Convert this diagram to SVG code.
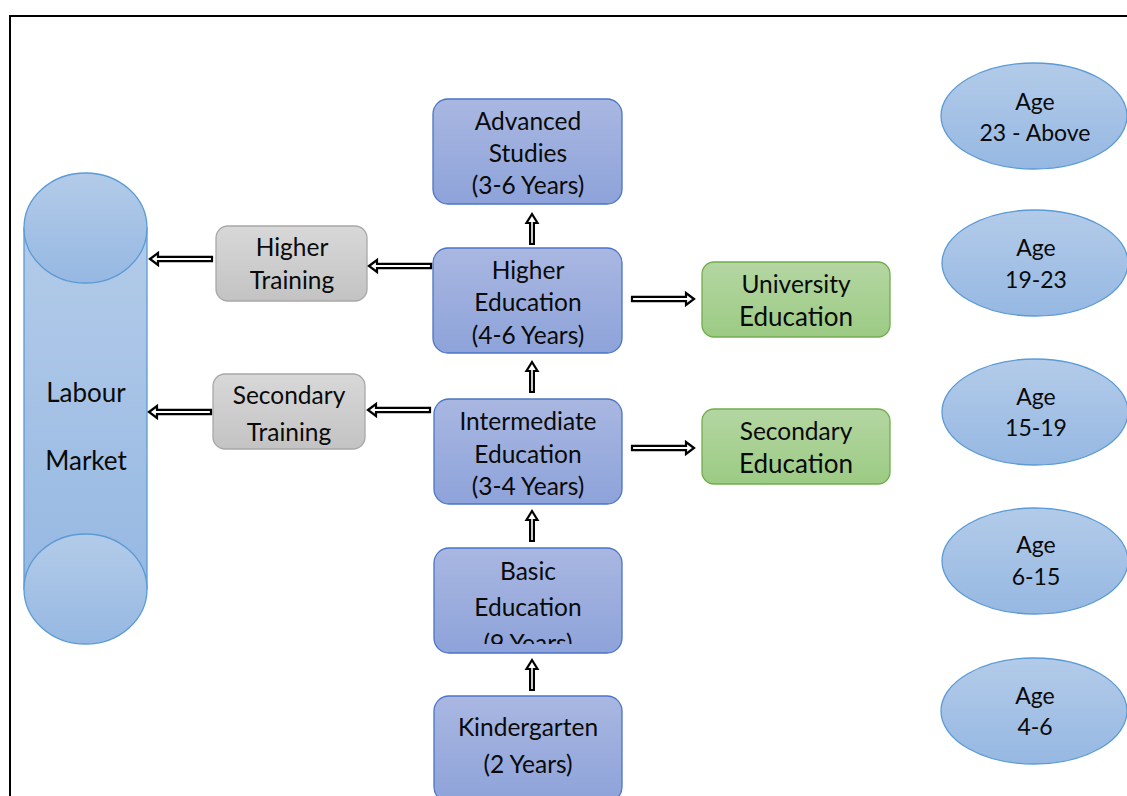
<svg xmlns="http://www.w3.org/2000/svg" width="1127" height="796" viewBox="0 0 1127 796">
  <defs>
    <linearGradient id="gBlue" x1="0" y1="0" x2="0" y2="1">
      <stop offset="0" stop-color="#a9b7e1"/>
      <stop offset="1" stop-color="#8ea3da"/>
    </linearGradient>
    <linearGradient id="gGreen" x1="0" y1="0" x2="0" y2="1">
      <stop offset="0" stop-color="#b4d6a2"/>
      <stop offset="1" stop-color="#9ccb84"/>
    </linearGradient>
    <linearGradient id="gGray" x1="0" y1="0" x2="0" y2="1">
      <stop offset="0" stop-color="#d8d8d8"/>
      <stop offset="1" stop-color="#c3c3c3"/>
    </linearGradient>
    <linearGradient id="gSky" x1="0" y1="0" x2="0" y2="1">
      <stop offset="0" stop-color="#b3cbe9"/>
      <stop offset="1" stop-color="#96b8e2"/>
    </linearGradient>
    <clipPath id="clipBasic">
      <rect x="434" y="548" width="188" height="96"/>
    </clipPath>
    <!-- hollow block arrow, pointing right, tail at 0, tip at 62 -->
    <polygon id="arrowH" points="62,0 54,-6 54,-2.2 0,-2.2 0,2.2 54,2.2 54,6"/>
    <!-- hollow block arrow, pointing up, tail at 0, tip at -30 -->
    <polygon id="arrowV" points="0,-30 -5.5,-21 -1.9,-21 -1.9,0 1.9,0 1.9,-21 5.5,-21"/>
  </defs>
  <style>
    .txt { font-family: Lato, "Open Sans", "Liberation Sans", sans-serif; fill: #0a0a0a; text-anchor: middle; }
    .s24 { font-size: 24.5px; }
    .s26 { font-size: 26px; }
    .s23 { font-size: 23px; }
    .blue { fill: url(#gBlue); stroke: #4a74c6; stroke-width: 1.3; }
    .green { fill: url(#gGreen); stroke: #72ad4c; stroke-width: 1.3; }
    .gray { fill: url(#gGray); stroke: #a8a8a8; stroke-width: 1.3; }
    .sky { fill: url(#gSky); stroke: #5b9bd5; stroke-width: 1.3; }
    .arrow { fill: #fff; stroke: #000; stroke-width: 2.2; stroke-linejoin: miter; }
  </style>

  <rect x="0" y="0" width="1127" height="796" fill="#fff"/>
  <!-- page frame -->
  <rect x="10" y="16" width="1140" height="800" fill="none" stroke="#000" stroke-width="2"/>

  <!-- labour market cylinder -->
  <g id="labour-market">
    <rect x="24" y="228" width="123" height="361" class="sky"/>
    <ellipse cx="85.5" cy="228" rx="61.5" ry="55" class="sky"/>
    <ellipse cx="85.5" cy="589" rx="61.5" ry="55" class="sky"/>
    <text class="txt s26" x="86" y="402">Labour</text>
    <text class="txt s26" x="86" y="470">Market</text>
  </g>

  <!-- training boxes -->
  <g id="higher-training">
    <rect x="216" y="226" width="151" height="75" rx="12" class="gray"/>
    <text class="txt s24" x="292" y="256">Higher</text>
    <text class="txt s24" x="292" y="289">Training</text>
  </g>
  <g id="secondary-training">
    <rect x="213" y="374" width="152" height="75" rx="12" class="gray"/>
    <text class="txt s24" x="289" y="404">Secondary</text>
    <text class="txt s24" x="289" y="441">Training</text>
  </g>

  <!-- education ladder -->
  <g id="advanced-studies">
    <rect x="433" y="99" width="189" height="105" rx="15" class="blue"/>
    <text class="txt s24" x="528" y="130">Advanced</text>
    <text class="txt s24" x="528" y="162">Studies</text>
    <text class="txt s24" x="528" y="194">(3-6 Years)</text>
  </g>
  <g id="higher-education">
    <rect x="433" y="248" width="189" height="105" rx="15" class="blue"/>
    <text class="txt s24" x="528" y="279">Higher</text>
    <text class="txt s24" x="528" y="311">Education</text>
    <text class="txt s24" x="528" y="344">(4-6 Years)</text>
  </g>
  <g id="intermediate-education">
    <rect x="434" y="399" width="188" height="105" rx="15" class="blue"/>
    <text class="txt s24" x="528" y="430">Intermediate</text>
    <text class="txt s24" x="528" y="463">Education</text>
    <text class="txt s24" x="528" y="495">(3-4 Years)</text>
  </g>
  <g id="basic-education">
    <rect x="434" y="548" width="188" height="105" rx="15" class="blue"/>
    <text class="txt s24" x="528" y="580">Basic</text>
    <text class="txt s24" x="528" y="616">Education</text>
    <text class="txt s24" x="528" y="652" clip-path="url(#clipBasic)">(9 Years)</text>
  </g>
  <g id="kindergarten">
    <rect x="434" y="696" width="188" height="106" rx="15" class="blue"/>
    <text class="txt s24" x="528" y="736">Kindergarten</text>
    <text class="txt s24" x="528" y="773">(2 Years)</text>
  </g>

  <!-- tertiary / secondary outcomes -->
  <g id="university-education">
    <rect x="702" y="262" width="188" height="75" rx="12" class="green"/>
    <text class="txt s24" x="796" y="293">University</text>
    <text class="txt s26" x="796" y="326">Education</text>
  </g>
  <g id="secondary-education">
    <rect x="702" y="409" width="188" height="75" rx="12" class="green"/>
    <text class="txt s24" x="796" y="440">Secondary</text>
    <text class="txt s26" x="796" y="473">Education</text>
  </g>

  <!-- age bands -->
  <g id="age-23-above">
    <ellipse cx="1034" cy="116" rx="93" ry="53" class="sky"/>
    <text class="txt s23" x="1035" y="110">Age</text>
    <text class="txt s23" x="1035" y="141">23 - Above</text>
  </g>
  <g id="age-19-23">
    <ellipse cx="1035" cy="263" rx="93" ry="53" class="sky"/>
    <text class="txt s23" x="1036" y="256">Age</text>
    <text class="txt s23" x="1036" y="288">19-23</text>
  </g>
  <g id="age-15-19">
    <ellipse cx="1035" cy="412" rx="93" ry="53" class="sky"/>
    <text class="txt s23" x="1036" y="405">Age</text>
    <text class="txt s23" x="1036" y="436">15-19</text>
  </g>
  <g id="age-6-15">
    <ellipse cx="1035" cy="561" rx="93" ry="53" class="sky"/>
    <text class="txt s23" x="1036" y="553">Age</text>
    <text class="txt s23" x="1036" y="585">6-15</text>
  </g>
  <g id="age-4-6">
    <ellipse cx="1034" cy="711" rx="93" ry="53" class="sky"/>
    <text class="txt s23" x="1035" y="704">Age</text>
    <text class="txt s23" x="1035" y="735">4-6</text>
  </g>

  <!-- connectors -->
  <g id="connectors" class="arrow">
    <use href="#arrowH" transform="translate(431,266) scale(-1,1)"/>
    <use href="#arrowH" transform="translate(212,259) scale(-1,1)"/>
    <use href="#arrowH" transform="translate(430,410) scale(-1,1)"/>
    <use href="#arrowH" transform="translate(211,412) scale(-1,1)"/>
    <use href="#arrowH" transform="translate(632,299)"/>
    <use href="#arrowH" transform="translate(632,448)"/>
    <use href="#arrowV" transform="translate(532,244)"/>
    <use href="#arrowV" transform="translate(532,392)"/>
    <use href="#arrowV" transform="translate(532,541)"/>
    <use href="#arrowV" transform="translate(532,690)"/>
  </g>
</svg>
